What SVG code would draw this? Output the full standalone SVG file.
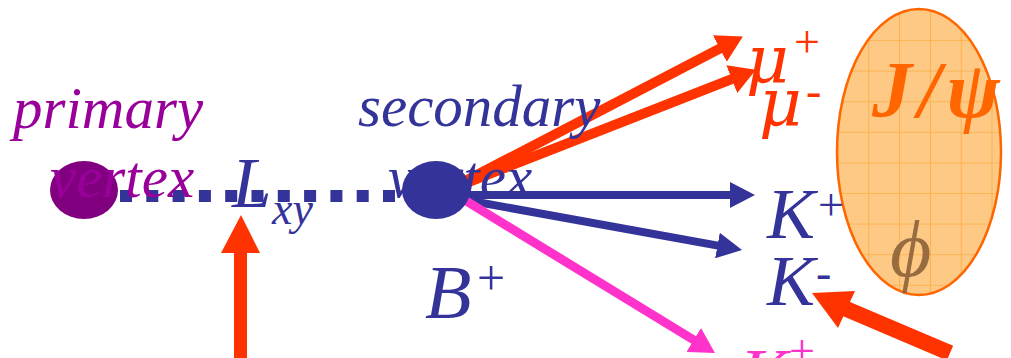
<svg xmlns="http://www.w3.org/2000/svg" width="1011" height="358" viewBox="0 0 1011 358">
<style>
.t{font-family:"Liberation Serif","Times New Roman",serif;font-style:italic}
.u{font-family:"Liberation Serif","Times New Roman",serif;font-style:normal}
.g{font-family:"DejaVu Serif","Liberation Serif",serif;font-style:italic}
.red{fill:#ff3300}.blue{fill:#333399}.pink{fill:#ff33cc}.purp{fill:#990099}
.lr{stroke:#ff3300;stroke-width:10;fill:none}
.lb{stroke:#333399;stroke-width:8;fill:none}
.lp{stroke:#ff33cc;stroke-width:9;fill:none}
</style>
<defs>
<marker id="ahr" markerUnits="userSpaceOnUse" markerWidth="27" markerHeight="30" refX="2" refY="15" orient="auto"><path d="M0,0 L26,15 L0,30 z" fill="#ff3300"/></marker>
<marker id="ahb" markerUnits="userSpaceOnUse" markerWidth="26" markerHeight="26" refX="2" refY="13" orient="auto"><path d="M0,0 L25,13 L0,26 z" fill="#333399"/></marker>
<marker id="ahp" markerUnits="userSpaceOnUse" markerWidth="26" markerHeight="28" refX="2" refY="14" orient="auto"><path d="M0,0 L25,14 L0,28 z" fill="#ff33cc"/></marker>
<pattern id="grid" patternUnits="userSpaceOnUse" x="868.3" y="40" width="30.8" height="30.6">
<path d="M0,0 V30.6 M0,0 H30.8" stroke="#ffa126" stroke-width="1.2" fill="none"/>
</pattern>
</defs>

<g id="jpsi-blob">
<ellipse cx="919" cy="152" rx="82" ry="143" fill="#fdc985"/>
<ellipse cx="919" cy="152" rx="82" ry="143" fill="url(#grid)" stroke="#ff6600" stroke-width="2.5"/>
<text class="t" x="872" y="117" font-size="80" font-weight="bold" fill="#ff6600" textLength="128">J/ψ</text>
<text class="t" x="890" y="276" font-size="80" fill="#8c6239" fill-opacity="0.9">ϕ</text>
</g>

<g id="connectors">
<line x1="120" y1="196" x2="400" y2="196" stroke="#333399" stroke-width="12" stroke-dasharray="12 14.3"/>
<line class="lr" x1="448" y1="190" x2="721.6" y2="47.6" marker-end="url(#ahr)"/>
<line class="lr" x1="448" y1="190" x2="733.6" y2="78.4" marker-end="url(#ahr)"/>
<line class="lb" x1="450" y1="195" x2="732" y2="195" marker-end="url(#ahb)"/>
<line class="lb" x1="455" y1="198" x2="719.4" y2="245.9" marker-end="url(#ahb)"/>
<line class="lp" x1="458" y1="196" x2="695.4" y2="341" marker-end="url(#ahp)"/>
<line x1="240.5" y1="252" x2="240.5" y2="358" stroke="#ff3300" stroke-width="13"/>
<polygon points="241,215 260,253 221,253" fill="#ff3300"/>
<line x1="844" y1="308" x2="950" y2="353" stroke="#ff3300" stroke-width="16"/>
<polygon points="812,293 855,291 838,328" fill="#ff3300"/>
</g>

<g id="primary-vertex">
<ellipse cx="84" cy="190" rx="34" ry="29" fill="#800080"/>
<text class="t purp" x="13" y="128" font-size="59">primary</text>
<text class="t purp" x="50" y="197" font-size="59">vertex</text>
</g>

<g id="secondary-vertex">
<text class="t blue" x="358" y="126" font-size="59">secondary</text>
<text class="t blue" x="388" y="197" font-size="59">vertex</text>
<ellipse cx="436" cy="190" rx="34" ry="29" fill="#333399"/>
</g>

<g id="lxy">
<text class="t blue" x="232" y="207" font-size="71">L</text>
<text class="t blue" x="272" y="224" font-size="46">xy</text>
</g>

<g id="bplus">
<text class="t blue" x="425" y="318" font-size="76">B</text>
<text class="u blue" x="477" y="295" font-size="50">+</text>
</g>

<g id="muplus">
<text class="g red" x="746" y="82" font-size="66">μ</text>
<text class="u red" x="794" y="57" font-size="46">+</text>
</g>
<g id="muminus">
<text class="g red" x="759" y="125" font-size="66">μ</text>
<text class="u red" x="806" y="106" font-size="46">-</text>
</g>
<g id="kplus">
<text class="t blue" x="767" y="238" font-size="72">K</text>
<text class="u blue" x="818" y="220" font-size="46">+</text>
</g>
<g id="kminus">
<text class="t blue" x="767" y="305" font-size="72">K</text>
<text class="u blue" x="816" y="288" font-size="46">-</text>
</g>
<g id="kplus-pink">
<text class="t pink" x="740" y="398" font-size="72">K</text>
<text class="u pink" x="789" y="366" font-size="46">+</text>
</g>
</svg>
